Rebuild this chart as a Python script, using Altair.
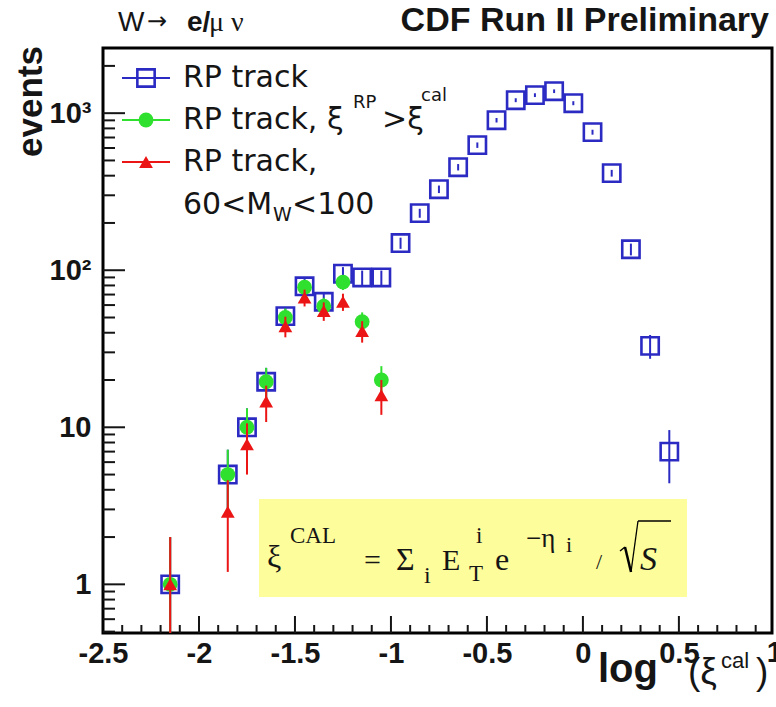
import altair as alt
import pandas as pd

# log10(xi_cal) bin centres and event counts, all RP-track events
xi_all = [-2.15, -1.85, -1.75, -1.65, -1.55, -1.45, -1.35, -1.25, -1.15, -1.05,
          -0.95, -0.85, -0.75, -0.65, -0.55, -0.45, -0.35, -0.25, -0.15, -0.05,
          0.05, 0.15, 0.25, 0.35, 0.45]
n_all = [1, 5, 10, 19.5, 51, 79, 63, 95, 90, 90,
         149, 231, 328, 453, 626, 902, 1210, 1303, 1380, 1158,
         757, 415, 136, 33, 7]
err_all = [1.0, 2.2, 3.2, 4.4, 7.1, 8.9, 7.9, 9.7, 9.5, 9.5,
           12.2, 15.2, 18.1, 21.3, 25.0, 30.0, 34.8, 36.1, 37.1, 34.0,
           27.5, 20.4, 11.7, 5.7, 2.6]

# subsets: xi_RP > xi_cal, and 60 < M_W < 100
xi_sub = [-2.15, -1.85, -1.75, -1.65, -1.55, -1.45, -1.35, -1.25, -1.15, -1.05]
n_rp = [1, 5, 10, 19.5, 50, 78, 59, 84, 47, 20]
err_rp = [1.0, 2.2, 3.2, 4.4, 7.1, 8.8, 7.7, 9.2, 6.9, 4.5]
n_mw = [1, 2.9, 7.8, 14.6, 44, 67, 55, 63, 41, 16]
err_mw = [1.0, 1.7, 2.8, 3.8, 6.6, 8.2, 7.4, 7.9, 6.4, 4.0]

x_major = [-2.5, -2, -1.5, -1, -0.5, 0, 0.5, 1]
y_major = [1, 10, 100, 1000]

W, H = 669, 585
BLUE, GREEN, RED, INK = "#2b2bc4", "#2fe02f", "#ec1515", "#151515"
SANS, SERIF, UNI = "Liberation Sans", "Liberation Serif", "DejaVu Sans"

x_minor = [round(-2.5 + 0.1 * i, 2) for i in range(1, 35)]
x_minor = [v for v in x_minor if round(v * 2, 6) != round(v * 2)]
y_minor = [m * 10 ** e for e in range(-1, 4) for m in range(2, 10)]
y_minor = [v for v in y_minor if 0.49 <= v <= 2600]


def series(x, n, err):
    df = pd.DataFrame({"x": x, "n": n, "err": err})
    df["lo"] = (df["n"] - df["err"]).clip(lower=0.3)
    df["hi"] = df["n"] + df["err"]
    return df


xs = alt.Scale(domain=[-2.5, 0.985], nice=False, zero=False)
ys = alt.Scale(type="log", domain=[0.49, 2600], nice=False)
xaxis = alt.Axis(values=x_major, labelExpr="'' + datum.value", title=None,
                 ticks=False, domain=False, grid=False, labelFont=SANS,
                 labelFontWeight="bold", labelFontSize=29, labelPadding=6,
                 labelColor=INK, labelFlush=False, labelOverlap=False, labelBound=False)
yaxis = alt.Axis(values=y_major,
                 labelExpr="datum.value == 1000 ? '10³' : datum.value == 100 ? '10²' : '' + datum.value",
                 title=None, ticks=False, domain=False, grid=False, labelFont=SANS,
                 labelFontWeight="bold", labelFontSize=29, labelPadding=12,
                 labelColor=INK, labelOverlap=False)
X = alt.X("x:Q", scale=xs, axis=xaxis)
Y = alt.Y("n:Q", scale=ys, axis=yaxis)

one = pd.DataFrame({"k": [0]})


def txt(s, x, y, size, font=UNI, weight="normal", style="normal", align="left",
        baseline="alphabetic", angle=0):
    return alt.Chart(one).mark_text(
        text=s, font=font, fontSize=size, fontWeight=weight, fontStyle=style,
        align=align, baseline=baseline, angle=angle, color=INK
    ).encode(x=alt.value(x), y=alt.value(y))


def stroke(x1, y1, x2, y2, width=1.5):
    return alt.Chart(one).mark_rule(color="black", strokeWidth=width).encode(
        x=alt.value(x1), y=alt.value(y1), x2=alt.value(x2), y2=alt.value(y2))


def points(df, color, shape, size, filled):
    bars = alt.Chart(df).mark_rule(color=color, strokeWidth=2, clip=True).encode(
        x=X, y=alt.Y("lo:Q", scale=ys, axis=yaxis), y2="hi:Q")
    if filled:
        mk = alt.Chart(df).mark_point(shape=shape, size=size, filled=True, color=color,
                                      opacity=1, clip=True)
    else:
        mk = alt.Chart(df).mark_point(shape=shape, size=size, filled=False, color=color,
                                      strokeWidth=2.6, opacity=1, clip=True)
    return bars + mk.encode(x=X, y=Y)


# inward tick marks along the frame
yt_major = alt.Chart(pd.DataFrame({"n": y_major})).mark_rule(color=INK, strokeWidth=2).encode(
    y=Y, x=alt.value(0), x2=alt.value(22))
yt_minor = alt.Chart(pd.DataFrame({"n": y_minor})).mark_rule(color=INK, strokeWidth=2).encode(
    y=Y, x=alt.value(0), x2=alt.value(12))
xt_major = alt.Chart(pd.DataFrame({"x": x_major[1:-1]})).mark_rule(color=INK, strokeWidth=2).encode(
    x=X, y=alt.value(H), y2=alt.value(H - 17))
xt_minor = alt.Chart(pd.DataFrame({"x": x_minor})).mark_rule(color=INK, strokeWidth=2).encode(
    x=X, y=alt.value(H), y2=alt.value(H - 8))

# the last x label sits on the frame edge
last_label = alt.Chart(pd.DataFrame({"x": [x_major[-1]]})).mark_text(
    text="1", font=SANS, fontWeight="bold", fontSize=29, baseline="top", color=INK
).encode(x=X, y=alt.value(H + 6))

# formula box
box = alt.Chart(one).mark_rect(color="#fdfd9b").encode(
    x=alt.value(156), x2=alt.value(584), y=alt.value(451), y2=alt.value(549))
radical = [
    stroke(517, 503, 522, 499, 1.5),
    stroke(522, 499, 528, 524, 2.5),
    stroke(528, 524, 535, 473, 1.3),
    stroke(535, 473, 568, 473, 1.3),
]
formula = [
    txt("ξ", 164, 519, 32, font=SERIF),
    txt("CAL", 187, 495, 23, font=SERIF),
    txt("=", 261, 522, 30, font=SERIF),
    txt("Σ", 293, 522, 32, font=SERIF),
    txt("i", 321, 535, 24, font=SERIF),
    txt("E", 339, 522, 30, font=SERIF),
    txt("i", 373, 495, 23, font=SERIF),
    txt("T", 366, 533, 23, font=SERIF),
    txt("e", 392, 522, 32, font=SERIF),
    txt("−η", 423, 499, 27, font=SERIF),
    txt("i", 463, 504, 22, font=SERIF),
    txt("/", 493, 521, 22, font=SERIF),
    txt("S", 537, 522, 34, font=SERIF, style="italic"),
]


# legend
def legend_row(color, shape, size, filled, y):
    line = alt.Chart(one).mark_rule(color=color, strokeWidth=2).encode(
        x=alt.value(19), x2=alt.value(67), y=alt.value(y))
    if filled:
        mk = alt.Chart(one).mark_point(shape=shape, size=size, filled=True, color=color, opacity=1)
    else:
        mk = alt.Chart(one).mark_point(shape=shape, size=size, filled=False, color=color,
                                       strokeWidth=2.6, opacity=1)
    return line + mk.encode(x=alt.value(43), y=alt.value(y))


legend = [
    legend_row(BLUE, "square", 300, False, 30),
    legend_row(GREEN, "circle", 220, True, 72),
    legend_row(RED, "triangle-up", 190, True, 114),
    txt("RP track", 80, 30, 30, baseline="middle"),
    txt("RP track, ξ", 80, 72, 30, baseline="middle"),
    txt("RP", 250, 55, 18, baseline="middle"),
    txt(">ξ", 279, 72, 30, baseline="middle"),
    txt("cal", 318, 48, 18, baseline="middle"),
    txt("RP track,", 80, 114, 30, baseline="middle"),
    txt("60<M", 80, 157, 30, baseline="middle"),
    txt("W", 170, 167, 19, baseline="middle"),
    txt("<100", 189, 157, 30, baseline="middle"),
]

titles = [
    txt("W", 15, -17, 28, font=SANS),
    txt("→", 44, -19, 24, font=UNI),
    txt("e/", 84, -17, 28, font=SANS, weight="bold"),
    txt("μ ν", 106, -17, 28, font=SERIF),
    txt("CDF Run II Preliminary", 666, -17, 34, font=SANS, weight="bold", align="right"),
    txt("events", -72, -2, 35, font=SANS, weight="bold", align="right",
        baseline="middle", angle=270),
    txt("log", 495, 634, 40, font=SANS, weight="bold"),
    txt("(ξ", 585, 636, 37, font=SANS),
    txt("cal", 618, 620, 22, font=SANS),
    txt(")", 653, 636, 37, font=SANS),
]

data_layers = [
    points(series(xi_all, n_all, err_all), BLUE, "square", 300, False),
    points(series(xi_sub, n_rp, err_rp), GREEN, "circle", 220, True),
    points(series(xi_sub, n_mw, err_mw), RED, "triangle-up", 190, True),
]

chart = alt.layer(
    yt_major, yt_minor, xt_major, xt_minor, last_label, box, *radical, *formula,
    *data_layers, *legend, *titles
).properties(
    width=W, height=H,
    autosize=alt.AutoSizeParams(type="none"),
    padding={"left": 103, "top": 48, "right": 4, "bottom": 74},
    background="white",
).configure_view(stroke="black", strokeWidth=3)

chart.save("out.html", embed_options={"renderer": "svg", "actions": False})
